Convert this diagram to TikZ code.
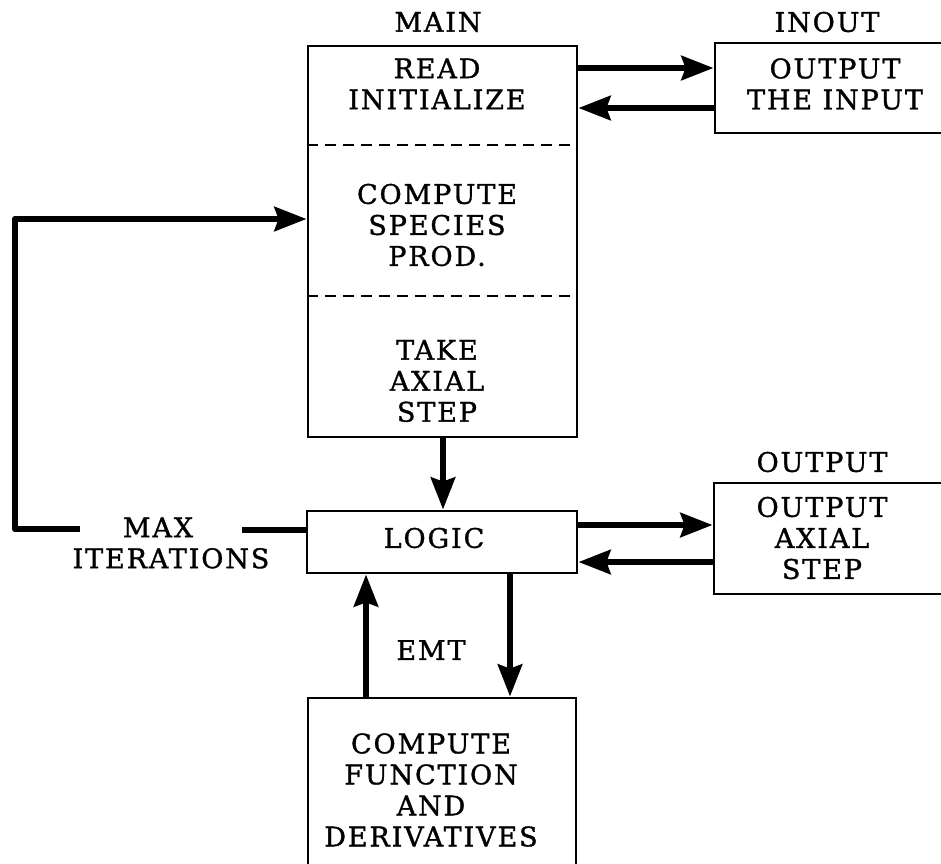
\documentclass[tikz,border=0pt]{standalone}
\usepackage{fontspec}
\newfontfamily\dvs[LetterSpace=7, FakeBold=1.2]{DejaVu Serif}
\usetikzlibrary{arrows.meta}
\begin{document}
\begin{tikzpicture}[x=1pt,y=-1pt,
  txt/.style={font=\dvs\fontsize{27}{31}\selectfont, align=center, inner sep=0pt},
  box/.style={draw, line width=2.8pt, inner sep=0pt},
  arr/.style={line width=6.5pt, -{Stealth[length=32pt,width=24pt,inset=4pt]}},
  thick line/.style={line width=6.5pt}]
\useasboundingbox (0,0) rectangle (941,863);
\clip (0,0) rectangle (941,863);
% boxes
\node[box, minimum width=269, minimum height=391] (main) at (442.5,241.5) {};
\node[box, minimum width=250, minimum height=90] (inout) at (840,88) {};
\node[box, minimum width=270, minimum height=62] (logic) at (442,542) {};
\node[box, minimum width=250, minimum height=111] (output) at (839,538.5) {};
\node[box, minimum width=268, minimum height=200] (comp) at (442,798) {};
% dashed separators
\draw[line width=2.8pt, dash pattern=on 11pt off 7pt] (main.west |- 0,145) -- (main.east |- 0,145);
\draw[line width=2.8pt, dash pattern=on 11pt off 7pt] (main.west |- 0,296) -- (main.east |- 0,296);
% labels
\node[txt] (lmain) at (438,22) {MAIN};
\node[txt] (linout) at (827,22) {INOUT};
\node[txt] (loutput) at (822,462) {OUTPUT};
% texts
\node[txt] (t1) at (437,84) {READ\\INITIALIZE};
\node[txt] (t2) at (437,225) {COMPUTE\\SPECIES\\PROD.};
\node[txt] (t3) at (437,381) {TAKE\\AXIAL\\STEP};
\node[txt] (t4) at (835,84) {OUTPUT\\THE INPUT};
\node[txt] (t5) at (434,538) {LOGIC};
\node[txt] (t6) at (822,538) {OUTPUT\\AXIAL\\STEP};
\node[txt] (t7) at (431,790) {COMPUTE\\FUNCTION\\AND\\DERIVATIVES};
\node[txt] (emt) at (431,650) {EMT};
\node[txt] (maxit) at (171,543) {\hspace*{-26pt}MAX\\ITERATIONS};
% coordinates
\coordinate (ya) at (0,68);
\coordinate (yb) at (0,108);
\coordinate (yc) at (0,525);
\coordinate (yd) at (0,562);
\coordinate (xe) at (366,0);
\coordinate (xf) at (510,0);
\coordinate (xg) at (443,0);
\coordinate (loopA) at (80,529);
\coordinate (loopB) at (15,529);
\coordinate (loopC) at (15,219);
\coordinate (loopD) at (242,530);
% arrows
\draw[arr] (main.east |- ya) -- (inout.west |- ya);
\draw[arr] (inout.west |- yb) -- (main.east |- yb);
\draw[arr] (logic.east |- yc) -- (output.west |- yc);
\draw[arr] (output.west |- yd) -- (logic.east |- yd);
\draw[arr] (xg |- main.south) -- (xg |- logic.north);
\draw[arr] (xe |- comp.north) -- (xe |- logic.south);
\draw[arr] (xf |- logic.south) -- (xf |- comp.north);
\draw[arr, line join=round] (loopA) -- (loopB) -- (loopC) -- (main.west |- loopC);
\draw[thick line] (loopD) -- (logic.west |- loopD);
\end{tikzpicture}
\end{document}
